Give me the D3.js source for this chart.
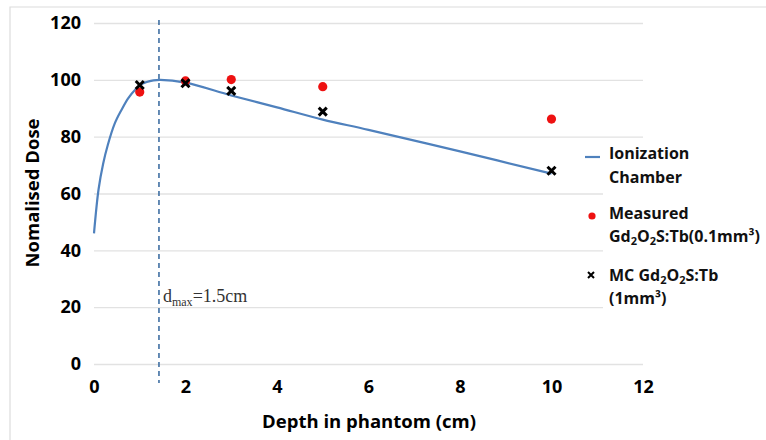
<!DOCTYPE html>
<html>
<head>
<meta charset="utf-8">
<script src="https://cdn.jsdelivr.net/npm/d3@7"></script>
<style>
  body { margin: 0; background: #fff; }
  svg { display: block; }
  .tick text { font-family: "Open Sans", sans-serif; font-weight: bold; font-size: 18px; fill: #000; }
</style>
</head>
<body>
<div class="container"></div>
<script>
// ionization chamber depth-dose curve
const chamberDepth = [0, 0.1, 0.2, 0.3, 0.45, 0.6, 0.75, 0.9, 1.05, 1.3, 1.45, 2, 3, 4, 5, 6, 8, 10];
const chamberDose = [46, 61.5, 70.5, 77, 84.5, 89.4, 93.6, 96.5, 98.6, 99.8, 100, 99, 94.5, 90.3, 86, 82.4, 74.8, 67];

// measured Gd2O2S:Tb (0.1mm3)
const measDepth = [1, 2, 3, 5, 10];
const measDose = [95.7, 99.6, 100.1, 97.6, 86.2];

// MC Gd2O2S:Tb (1mm3)
const mcDepth = [1, 2, 3, 5, 10];
const mcDose = [98.2, 98.8, 96.1, 88.8, 68];

const xTicks = [0, 2, 4, 6, 8, 10, 12];
const yTicks = [0, 20, 40, 60, 80, 100, 120];
const dmaxX = 1.42;

const w = 766, h = 440;
const pLeft = 94, pRight = 643, pTop = 23, pBottom = 364;

const svg = d3.select('.container')
  .append('svg')
  .attr('width', w)
  .attr('height', h);

// outer frame
svg.append('path')
  .attr('d', `M10,${h} L10,7 L${w},7`)
  .attr('fill', 'none')
  .attr('stroke', '#dcdcdc')
  .attr('stroke-width', 1.2);

const x = d3.scaleLinear().domain([0, 12]).range([pLeft, pRight]);
const y = d3.scaleLinear().domain([0, 120]).range([pBottom, pTop]);

// gridlines
svg.append('g')
  .attr('transform', `translate(${pLeft},0)`)
  .call(d3.axisLeft(y).tickValues(yTicks).tickSize(-(pRight - pLeft)).tickFormat(''))
  .call(g => g.select('.domain').remove())
  .call(g => g.selectAll('line').attr('stroke', '#e2e2e2').attr('stroke-width', 1.3));

// y tick labels
svg.append('g')
  .attr('transform', `translate(${pLeft},0)`)
  .call(d3.axisLeft(y).tickValues(yTicks).tickSize(0).tickPadding(13))
  .call(g => g.select('.domain').remove());

// x tick labels
svg.append('g')
  .attr('transform', `translate(0,${pBottom})`)
  .call(d3.axisBottom(x).tickValues(xTicks).tickSize(0).tickPadding(16))
  .call(g => g.select('.domain').remove());

// dmax dashed line
svg.append('line')
  .attr('x1', x(dmaxX)).attr('x2', x(dmaxX))
  .attr('y1', 20).attr('y2', 383)
  .attr('stroke', '#3f6fa3')
  .attr('stroke-width', 1.6)
  .attr('stroke-dasharray', '5,4');

const dlabel = svg.append('text')
  .attr('x', x(dmaxX) + 4)
  .attr('y', 302)
  .style('font-family', '"Liberation Serif", "Times New Roman", serif')
  .style('font-size', '18px')
  .attr('fill', '#333');
dlabel.append('tspan').text('d');
dlabel.append('tspan').attr('dy', 4).style('font-size', '12px').text('max');
dlabel.append('tspan').attr('dy', -4).text('=1.5cm');

// chamber curve
const line = d3.line()
  .x((d, i) => x(chamberDepth[i]))
  .y(d => y(d))
  .curve(d3.curveCatmullRom.alpha(0.5));

svg.append('path')
  .datum(chamberDose)
  .attr('d', line)
  .attr('fill', 'none')
  .attr('stroke', '#4f81bd')
  .attr('stroke-width', 2.2);

// measured points
svg.selectAll('circle.meas')
  .data(measDose)
  .enter()
  .append('circle')
  .attr('class', 'meas')
  .attr('cx', (d, i) => x(measDepth[i]))
  .attr('cy', d => y(d))
  .attr('r', 4.6)
  .attr('fill', '#ee1111');

// MC crosses
const cross = (s) => `M${-s},${-s}L${s},${s}M${-s},${s}L${s},${-s}`;
svg.selectAll('path.mc')
  .data(mcDose)
  .enter()
  .append('path')
  .attr('class', 'mc')
  .attr('transform', (d, i) => `translate(${x(mcDepth[i])},${y(d)})`)
  .attr('d', cross(4))
  .attr('stroke', '#000')
  .attr('stroke-width', 3);

// axis titles
svg.append('text')
  .attr('x', 369)
  .attr('y', 428)
  .attr('text-anchor', 'middle')
  .style('font-family', '"Open Sans", sans-serif')
  .style('font-weight', 'bold')
  .style('font-size', '18.5px')
  .attr('fill', '#000')
  .text('Depth in phantom (cm)');

svg.append('text')
  .attr('transform', 'translate(39,193) rotate(-90)')
  .attr('text-anchor', 'middle')
  .style('font-family', '"Open Sans", sans-serif')
  .style('font-weight', 'bold')
  .style('font-size', '18.5px')
  .attr('fill', '#000')
  .text('Nomalised Dose');

// legend
const legend = svg.append('g');
legend.append('rect')
  .attr('x', 603).attr('y', 145)
  .attr('width', 163).attr('height', 210)
  .attr('fill', '#fff');

const ltext = (tx, ty) => legend.append('text')
  .attr('x', tx).attr('y', ty)
  .style('font-family', '"Open Sans", sans-serif')
  .style('font-weight', 'bold')
  .style('font-size', '16px')
  .attr('fill', '#111');

legend.append('line')
  .attr('x1', 585).attr('x2', 600)
  .attr('y1', 157).attr('y2', 157)
  .attr('stroke', '#4f81bd').attr('stroke-width', 2.2);
ltext(609, 159).text('Ionization');
ltext(609, 183).text('Chamber');

legend.append('circle')
  .attr('cx', 592).attr('cy', 216).attr('r', 3.6)
  .attr('fill', '#ee1111');
ltext(609, 219).text('Measured');
const g1 = ltext(609, 242);
g1.append('tspan').text('Gd');
g1.append('tspan').attr('dy', 3).style('font-size', '11px').text('2');
g1.append('tspan').attr('dy', -3).text('O');
g1.append('tspan').attr('dy', 3).style('font-size', '11px').text('2');
g1.append('tspan').attr('dy', -3).text('S:Tb(0.1mm³)');

legend.append('path')
  .attr('transform', 'translate(591,275)')
  .attr('d', cross(3))
  .attr('stroke', '#000').attr('stroke-width', 2);
const g2 = ltext(609, 281);
g2.append('tspan').text('MC Gd');
g2.append('tspan').attr('dy', 3).style('font-size', '11px').text('2');
g2.append('tspan').attr('dy', -3).text('O');
g2.append('tspan').attr('dy', 3).style('font-size', '11px').text('2');
g2.append('tspan').attr('dy', -3).text('S:Tb');
ltext(609, 304).text('(1mm³)');
</script>
</body>
</html>
